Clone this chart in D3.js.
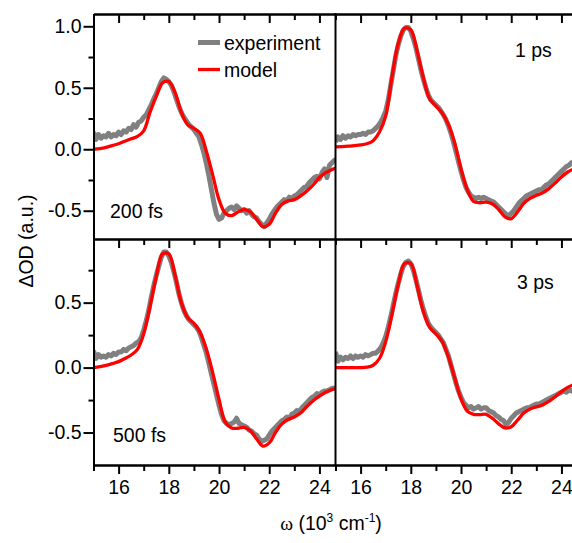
<!DOCTYPE html>
<html>
<head>
<meta charset="utf-8">
<script src="https://cdn.jsdelivr.net/npm/d3@7"></script>
<style>
  body { margin: 0; background: #fff; }
  svg { font-family: Arial, "Liberation Sans", sans-serif; }
</style>
</head>
<body>
<div id="chart"></div>
<script>
// wavenumber grids (10^3 cm^-1)
const expGrid = d3.range(0, 98).map(i => +(15 + i * 0.1).toFixed(1));
const modelGrid = d3.range(0, 40).map(i => 15 + i * 0.25);

const delays = ["200 fs", "1 ps", "500 fs", "3 ps"];

// experiment, 0.1 step from 15.0 to 24.7
const exp200fs = [
  0.14, 0.08, 0.12, 0.09, 0.11, 0.10, 0.13, 0.10, 0.12, 0.11,
  0.14, 0.12, 0.15, 0.14, 0.17, 0.16, 0.20, 0.18, 0.22, 0.23,
  0.26, 0.28, 0.32, 0.36, 0.41, 0.45, 0.50, 0.55, 0.58, 0.57,
  0.55, 0.52, 0.47, 0.41, 0.35, 0.30, 0.26, 0.23, 0.20, 0.18,
  0.16, 0.13, 0.10, 0.04, -0.03, -0.12, -0.22, -0.33, -0.44, -0.53,
  -0.57, -0.56, -0.52, -0.50, -0.48, -0.47, -0.49, -0.46, -0.48, -0.50,
  -0.49, -0.52, -0.50, -0.53, -0.55, -0.56, -0.59, -0.61, -0.63, -0.60,
  -0.57, -0.53, -0.50, -0.47, -0.45, -0.43, -0.41, -0.42, -0.39, -0.40,
  -0.38, -0.37, -0.35, -0.33, -0.31, -0.30, -0.27, -0.25, -0.23, -0.22,
  -0.24, -0.19, -0.16, -0.23, -0.13, -0.11, -0.09, -0.08
];
const exp1ps = [
  0.06, 0.10, 0.08, 0.11, 0.09, 0.11, 0.10, 0.12, 0.11, 0.12,
  0.12, 0.13, 0.12, 0.14, 0.14, 0.15, 0.17, 0.19, 0.22, 0.26,
  0.31, 0.40, 0.52, 0.64, 0.76, 0.85, 0.92, 0.97, 0.99, 0.99,
  0.96, 0.90, 0.83, 0.74, 0.65, 0.57, 0.50, 0.44, 0.40, 0.38,
  0.36, 0.34, 0.31, 0.28, 0.24, 0.19, 0.13, 0.06, -0.02, -0.10,
  -0.18, -0.25, -0.31, -0.35, -0.38, -0.39, -0.40, -0.39, -0.40, -0.39,
  -0.40, -0.41, -0.42, -0.43, -0.45, -0.47, -0.49, -0.51, -0.53, -0.54,
  -0.52, -0.50, -0.47, -0.44, -0.42, -0.40, -0.38, -0.37, -0.36, -0.35,
  -0.34, -0.33, -0.33, -0.31, -0.29, -0.28, -0.26, -0.24, -0.22, -0.20,
  -0.18, -0.16, -0.14, -0.13, -0.11, -0.10, -0.09, -0.08
];
const exp500fs = [
  0.13, 0.07, 0.10, 0.08, 0.09, 0.08, 0.10, 0.09, 0.11, 0.10,
  0.12, 0.12, 0.14, 0.13, 0.15, 0.16, 0.17, 0.19, 0.20, 0.23,
  0.29, 0.36, 0.44, 0.54, 0.63, 0.71, 0.78, 0.85, 0.89, 0.89,
  0.86, 0.81, 0.74, 0.66, 0.57, 0.50, 0.44, 0.40, 0.37, 0.35,
  0.33, 0.31, 0.28, 0.23, 0.17, 0.11, 0.03, -0.05, -0.13, -0.21,
  -0.29, -0.36, -0.41, -0.43, -0.44, -0.43, -0.42, -0.39, -0.43, -0.44,
  -0.45, -0.46, -0.48, -0.49, -0.51, -0.52, -0.55, -0.57, -0.56, -0.55,
  -0.52, -0.49, -0.47, -0.45, -0.43, -0.41, -0.40, -0.38, -0.39, -0.36,
  -0.35, -0.33, -0.34, -0.31, -0.29, -0.27, -0.25, -0.23, -0.22, -0.20,
  -0.21, -0.19, -0.18, -0.18, -0.17, -0.16, -0.16, -0.15
];
const exp3ps = [
  0.12, 0.05, 0.08, 0.06, 0.08, 0.07, 0.09, 0.07, 0.09, 0.08,
  0.09, 0.08, 0.10, 0.09, 0.10, 0.11, 0.11, 0.13, 0.15, 0.19,
  0.24, 0.31, 0.39, 0.48, 0.57, 0.65, 0.72, 0.78, 0.81, 0.82,
  0.80, 0.75, 0.68, 0.60, 0.52, 0.45, 0.39, 0.34, 0.31, 0.29,
  0.27, 0.25, 0.22, 0.19, 0.14, 0.09, 0.02, -0.05, -0.12, -0.18,
  -0.23, -0.27, -0.29, -0.31, -0.30, -0.32, -0.31, -0.30, -0.32, -0.31,
  -0.31, -0.33, -0.34, -0.35, -0.37, -0.38, -0.40, -0.41, -0.44, -0.42,
  -0.39, -0.37, -0.35, -0.34, -0.33, -0.32, -0.31, -0.31, -0.30, -0.29,
  -0.28, -0.28, -0.27, -0.26, -0.25, -0.24, -0.23, -0.22, -0.21, -0.20,
  -0.19, -0.18, -0.19, -0.17, -0.18, -0.17, -0.16, -0.16
];

// model, 0.25 step from 15.0 to 24.75
const model200fs = [
  0.00, 0.005, 0.015, 0.03, 0.045, 0.065, 0.085, 0.105, 0.15, 0.30,
  0.43, 0.54, 0.55, 0.46, 0.30, 0.20, 0.17, 0.13, -0.02, -0.21,
  -0.41, -0.52, -0.54, -0.51, -0.49, -0.51, -0.57, -0.63, -0.61, -0.52,
  -0.45, -0.42, -0.41, -0.38, -0.34, -0.29, -0.23, -0.19, -0.165, -0.145
];
const model1ps = [
  0.02, 0.022, 0.025, 0.03, 0.035, 0.045, 0.07, 0.14, 0.27, 0.59,
  0.86, 0.985, 0.97, 0.80, 0.58, 0.41, 0.35, 0.295, 0.20, 0.05,
  -0.16, -0.33, -0.425, -0.435, -0.43, -0.445, -0.49, -0.55, -0.565, -0.51,
  -0.44, -0.40, -0.375, -0.355, -0.32, -0.275, -0.225, -0.185, -0.16, -0.14
];
const model500fs = [
  0.00, 0.008, 0.017, 0.03, 0.046, 0.07, 0.097, 0.14, 0.26, 0.47,
  0.70, 0.875, 0.875, 0.71, 0.50, 0.385, 0.34, 0.27, 0.14, -0.04,
  -0.245, -0.42, -0.465, -0.467, -0.46, -0.487, -0.55, -0.605, -0.58, -0.50,
  -0.435, -0.40, -0.38, -0.35, -0.30, -0.255, -0.22, -0.19, -0.17, -0.155
];
const model3ps = [
  0.00, 0.00, 0.00, 0.00, 0.00, 0.003, 0.018, 0.07, 0.20, 0.41,
  0.64, 0.80, 0.80, 0.63, 0.43, 0.31, 0.26, 0.20, 0.08, -0.08,
  -0.24, -0.335, -0.36, -0.362, -0.36, -0.39, -0.433, -0.465, -0.455, -0.405,
  -0.35, -0.318, -0.303, -0.288, -0.26, -0.225, -0.185, -0.152, -0.13, -0.11
];

const yMajor = [-0.5, 0, 0.5, 1.0];
const yMinor = [-0.25, 0.25, 0.75];
const xMajor = [16, 18, 20, 22, 24];
const xMinor = [15, 17, 19, 21, 23];

const W = 572, H = 543;
const svg = d3.select("#chart").append("svg")
  .attr("width", W).attr("height", H);

const xLeft = d3.scaleLinear().domain([15, 24.64]).range([93.5, 335.5]);
const xRight = d3.scaleLinear().domain([15, 24.64]).range([335.5, 577.5]);
const yTop = d3.scaleLinear().domain([-0.73, 1.1]).range([239, 14]);
const yBot = d3.scaleLinear().domain([-0.75, 0.99]).range([465, 239]);

const panels = [
  {x: xLeft, y: yTop, exp: exp200fs, model: model200fs, label: delays[0], lx: 110, ly: 218},
  {x: xRight, y: yTop, exp: exp1ps, model: model1ps, label: delays[1], lx: 515, ly: 57},
  {x: xLeft, y: yBot, exp: exp500fs, model: model500fs, label: delays[2], lx: 113, ly: 442},
  {x: xRight, y: yBot, exp: exp3ps, model: model3ps, label: delays[3], lx: 517, ly: 289}
];

const grey = "#808080", red = "#ff0000";

panels.forEach((p, i) => {
  const [x0, x1] = p.x.range(), [y1, y0] = p.y.range();
  svg.append("clipPath").attr("id", "clip" + i)
    .append("rect").attr("x", x0).attr("y", y0)
    .attr("width", x1 - x0).attr("height", y1 - y0);

  const g = svg.append("g").attr("clip-path", `url(#clip${i})`);
  const line = d3.line().x(d => p.x(d[0])).y(d => p.y(d[1]));

  g.append("path")
    .datum(expGrid.map((w, k) => [w, p.exp[k]]))
    .attr("fill", "none").attr("stroke", grey)
    .attr("stroke-width", 5).attr("stroke-linejoin", "round")
    .attr("d", line);

  g.append("path")
    .datum(modelGrid.map((w, k) => [w, p.model[k]]))
    .attr("fill", "none").attr("stroke", red)
    .attr("stroke-width", 3.3)
    .attr("d", line.curve(d3.curveCatmullRom));

  svg.append("text").attr("x", p.lx).attr("y", p.ly)
    .attr("font-size", 19.5).text(p.label);
});

// axes
function styleAxis(sel) {
  sel.selectAll("path, line").attr("stroke", "#000").attr("stroke-width", 2);
  sel.selectAll("text").attr("font-size", 19.5).attr("fill", "#000")
    .attr("font-family", "Arial, 'Liberation Sans', sans-serif");
}

[yTop, yBot].forEach(y => {
  svg.append("g").attr("transform", "translate(93.5,0)")
    .call(d3.axisLeft(y).tickValues(yMajor.filter(v => v < y.domain()[1]))
      .tickFormat(d => d.toFixed(1)).tickSize(10).tickSizeOuter(0).tickPadding(2))
    .call(styleAxis);
  svg.append("g").attr("transform", "translate(93.5,0)")
    .call(d3.axisLeft(y).tickValues(yMinor).tickFormat("").tickSize(5).tickSizeOuter(0))
    .call(styleAxis);
});

[xLeft, xRight].forEach(x => {
  svg.append("g").attr("transform", "translate(0,465)")
    .call(d3.axisBottom(x).tickValues(xMajor).tickFormat(d3.format("d"))
      .tickSize(9).tickSizeOuter(0).tickPadding(6))
    .call(styleAxis);
  svg.append("g").attr("transform", "translate(0,465)")
    .call(d3.axisBottom(x).tickValues(xMinor).tickFormat("").tickSize(6).tickSizeOuter(0))
    .call(styleAxis);
  [14, 239].forEach(yy => {
    svg.append("g").attr("transform", `translate(0,${yy})`)
      .call(d3.axisBottom(x).tickValues(xMajor).tickFormat("").tickSize(9).tickSizeOuter(0))
      .call(styleAxis);
    svg.append("g").attr("transform", `translate(0,${yy})`)
      .call(d3.axisBottom(x).tickValues(xMinor).tickFormat("").tickSize(6).tickSizeOuter(0))
      .call(styleAxis);
  });
});

svg.append("line").attr("x1", 335.5).attr("x2", 335.5).attr("y1", 13).attr("y2", 466)
  .attr("stroke", "#000").attr("stroke-width", 2);

// legend
const legend = [["experiment", grey, 5], ["model", red, 3.3]];
legend.forEach(([name, col, sw], i) => {
  const yy = 42.5 + i * 27;
  svg.append("line").attr("x1", 198).attr("x2", 220).attr("y1", yy).attr("y2", yy)
    .attr("stroke", col).attr("stroke-width", sw);
  svg.append("text").attr("x", 224).attr("y", yy + 7.5)
    .attr("font-size", 19.5).text(name);
});

// axis titles
svg.append("text")
  .attr("transform", "translate(33,241) rotate(-90)")
  .attr("text-anchor", "middle").attr("font-size", 19.5)
  .text("\u0394OD (a.u.)");

const xt = svg.append("text").attr("x", 331).attr("y", 530)
  .attr("text-anchor", "middle").attr("font-size", 19.5);
xt.append("tspan").attr("font-family", "'Liberation Serif', 'DejaVu Serif', serif").text("\u03c9");
xt.append("tspan").text(" (10");
xt.append("tspan").attr("font-size", 12).attr("dy", -8).text("3");
xt.append("tspan").attr("dy", 8).text(" cm");
xt.append("tspan").attr("font-size", 12).attr("dy", -8).text("-1");
xt.append("tspan").attr("dy", 8).text(")");
</script>
</body>
</html>
